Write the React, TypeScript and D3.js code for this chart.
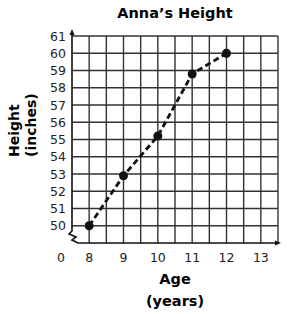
import React from "react";
import * as d3 from "d3";

const ages = [8, 9, 10, 11, 12];
const heights = [50, 52.9, 55.2, 58.8, 60];
const xTicks = [8, 9, 10, 11, 12, 13];
const yTicks = [50, 51, 52, 53, 54, 55, 56, 57, 58, 59, 60, 61];
const title = "Anna’s Height";

const W = 287, H = 314;
const FONT = "'DejaVu Sans', Verdana, sans-serif";

export default function App() {
  const x = d3.scaleLinear().domain([7.5, 13.5]).range([72, 278]);
  const y = d3.scaleLinear().domain([49, 61]).range([243, 36]);
  const vLines = d3.range(7.5, 13.51, 0.5);
  const hLines = d3.range(50, 61.01, 1);
  const line = d3.line<number>().x((_, i) => x(ages[i])).y((d) => y(d));
  const x0 = x(7.5), yb = y(49);
  const breakPath = `M${x0},${y(61) - 5} L${x0},${yb - 12} L${x0 - 3},${yb - 9} L${x0 + 4},${yb - 6} L${x0},${yb - 3} L${x0 + 6},${yb} L${x(13.5) + 1},${yb}`;
  return (
    <svg width={W} height={H} style={{ position: "absolute", left: 0, top: 0, background: "#fff" }}>
      <text x={175} y={18} textAnchor="middle" fontFamily={FONT} fontWeight="bold" fontSize={14.5}>{title}</text>
      {vLines.slice(1).map((v) => (
        <line key={"v" + v} x1={x(v)} x2={x(v)} y1={y(61)} y2={yb} stroke="#333" strokeWidth={1.4} />
      ))}
      {hLines.map((v) => (
        <line key={"h" + v} x1={x0} x2={x(13.5)} y1={y(v)} y2={y(v)} stroke="#333" strokeWidth={1.4} />
      ))}
      <path d={breakPath} fill="none" stroke="#111" strokeWidth={1.6} />
      <path d={`M${x0 - 2.5},${y(61) - 1} L${x0},${y(61) - 7} L${x0 + 2.5},${y(61) - 1} Z`} fill="#111" />
      <path d={`M${x(13.5) - 3},${yb - 2.5} L${x(13.5) + 3},${yb} L${x(13.5) - 3},${yb + 2.5} Z`} fill="#111" />
      {yTicks.map((t) => (
        <text key={"yt" + t} x={66} y={y(t)} dy="0.36em" textAnchor="end" fontFamily={FONT} fontSize={12.5} fill="#222">{t}</text>
      ))}
      <text x={61} y={262} textAnchor="middle" fontFamily={FONT} fontSize={12.5} fill="#222">0</text>
      {xTicks.map((t) => (
        <text key={"xt" + t} x={x(t)} y={262} textAnchor="middle" fontFamily={FONT} fontSize={12.5} fill="#222">{t}</text>
      ))}
      <path d={line(heights) || ""} fill="none" stroke="#111" strokeWidth={2.8} strokeDasharray="6,3.5" />
      {heights.map((h, i) => (
        <circle key={"p" + i} cx={x(ages[i])} cy={y(h)} r={4.5} fill="#111" />
      ))}
      <text x={175} y={284} textAnchor="middle" fontFamily={FONT} fontWeight="bold" fontSize={14.5}>Age</text>
      <text x={175} y={306} textAnchor="middle" fontFamily={FONT} fontWeight="bold" fontSize={14.5}>(years)</text>
      <text transform="translate(19,157) rotate(-90)" textAnchor="start" fontFamily={FONT} fontWeight="bold" fontSize={14}>Height</text>
      <text transform="translate(36,157) rotate(-90)" textAnchor="start" fontFamily={FONT} fontWeight="bold" fontSize={14}>(inches)</text>
    </svg>
  );
}
